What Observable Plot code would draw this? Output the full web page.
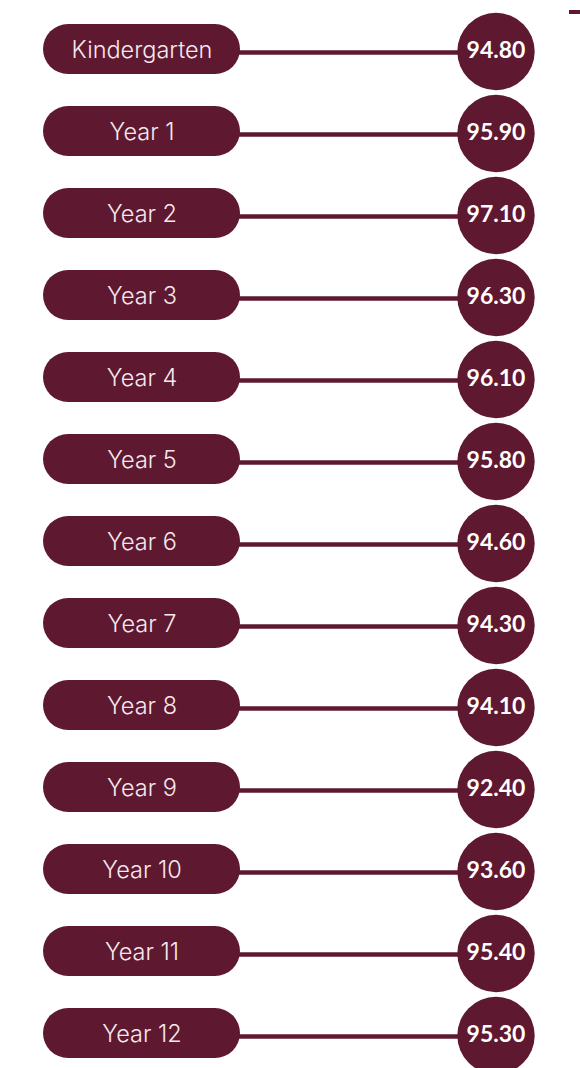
<!DOCTYPE html>
<html>
<head>
<meta charset="utf-8">
<script src="https://cdn.jsdelivr.net/npm/d3@7"></script>
<script src="https://cdn.jsdelivr.net/npm/@observablehq/plot@0.6"></script>
<style>
  html, body { margin: 0; padding: 0; background: #ffffff; }
  #wrap { position: relative; width: 580px; height: 1068px; }
  #dash { position: absolute; left: 569px; top: 10px; width: 11px; height: 4px; background: #5e1830; }
  svg { display: block; }
</style>
</head>
<body>
<div id="wrap"><div id="dash"></div><div id="chart"></div></div>
<script>
const categories = ["Kindergarten", "Year 1", "Year 2", "Year 3", "Year 4", "Year 5", "Year 6",
  "Year 7", "Year 8", "Year 9", "Year 10", "Year 11", "Year 12"];
const values = [94.8, 95.9, 97.1, 96.3, 96.1, 95.8, 94.6, 94.3, 94.1, 92.4, 93.6, 95.4, 95.3];
const columns = ["label", "value"];

const rows = categories.map((c, i) => ({category: c, value: values[i]}));
const maroon = "#5e1830";
const fmt = d3.format(".2f");

const chart = Plot.plot({
  width: 580,
  height: 1068,
  margin: 0,
  x: {type: "band", domain: columns, range: [42, 595], paddingInner: 0.44225, paddingOuter: 0, axis: null},
  y: {type: "band", domain: categories, range: [23, 1059], paddingInner: 0.3915, paddingOuter: 0, axis: null},
  marks: [
    Plot.link(rows, {x1: () => columns[0], x2: () => columns[1], y1: "category", y2: "category",
      stroke: maroon, strokeWidth: 4.5, dy: 3}),
    Plot.cell(rows, {x: () => columns[0], y: "category", fill: maroon, rx: 25}),
    Plot.dot(rows, {x: () => columns[1], y: "category", r: 38.7, fill: maroon, stroke: null, dy: 2}),
    Plot.text(rows, {x: () => columns[0], y: "category", text: "category", fill: "#f5e9ee",
      fontSize: 23.5, fontWeight: 300, fontFamily: "Inter, Lato, sans-serif", dy: 1}),
    Plot.text(rows, {x: () => columns[1], y: "category", text: d => fmt(d.value), fill: "#ffffff",
      fontSize: 23, fontWeight: 700, fontFamily: "Lato, 'Open Sans', sans-serif", dy: 1})
  ]
});
document.getElementById("chart").appendChild(chart);
</script>
</body>
</html>
